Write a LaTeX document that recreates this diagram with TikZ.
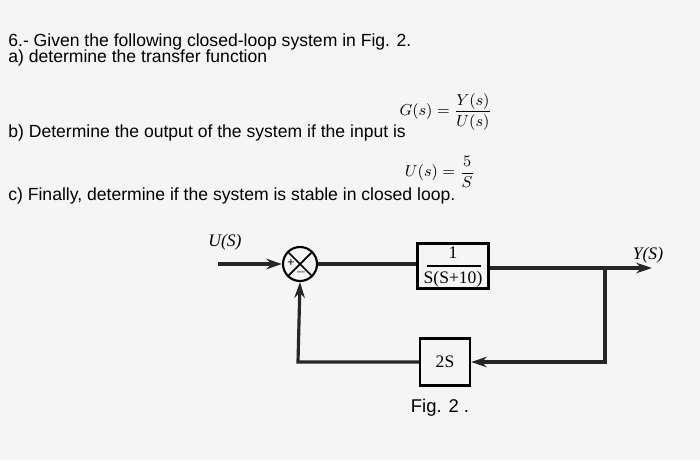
\documentclass[tikz,border=0pt]{standalone}
\usepackage{amsmath}
\usepackage{fontspec}
\setmainfont{Liberation Sans}
\newfontfamily\tms{Liberation Serif}
\usetikzlibrary{arrows.meta}
\begin{document}
\begin{tikzpicture}[x=0.02cm,y=-0.02cm,
  txt/.style={anchor=west,inner sep=0pt,font=\fontsize{10}{12}\selectfont},
  blk/.style={draw,line width=1.2pt,inner sep=0pt},
  wire/.style={line width=1.8pt,draw=black!85},
  arr/.style={wire,-{Stealth[length=9pt,width=6pt]}},
  lab/.style={font=\tms\itshape\fontsize{10}{11}\selectfont}]
\fill[gray!8] (0,0) rectangle (700,460);
\useasboundingbox (0,0) rectangle (700,460);
\node[txt] (t1) at (8,42) {6.- Given the following closed-loop system in Fig. 2.};
\node[txt] (t2) at (8,58) {a) determine the transfer function};
\node[anchor=east,inner sep=0pt,font=\fontsize{9.5}{10}\selectfont] (eq1) at (492,112) {$G(s)=\dfrac{Y(s)}{U(s)}$};
\node[txt] (t3) at (8,133) {b) Determine the output of the system if the input is};
\node[anchor=east,inner sep=0pt,font=\fontsize{9.5}{10}\selectfont] (eq2) at (475,172) {$U(s)=\dfrac{5}{S}$};
\node[txt] (t4) at (8,196) {c) Finally, determine if the system is stable in closed loop.};
% diagram
\node[draw,circle,line width=1.2pt,minimum size=34*0.02cm,inner sep=0pt] (sum) at (300,264) {};
\draw[line width=1pt] (sum.north west) -- (sum.south east) (sum.north east) -- (sum.south west);
\node[font=\fontsize{7}{7}\selectfont,inner sep=0pt] at (291,263) {+};
\node[font=\fontsize{7}{7}\selectfont,inner sep=0pt] at (301,272) {$-$};
\node[blk,minimum width=71*0.02cm,minimum height=45*0.02cm] (G) at (453,266) {};
\node[font=\tms\fontsize{10}{11}\selectfont,inner sep=0pt] (Gn) at (453,253) {1};
\node[font=\tms\fontsize{10}{11}\selectfont,inner sep=0pt] (Gd) at (453,279) {S(S+10)};
\draw[line width=1.2pt] (427,266) -- (481,266);
\node[blk,minimum width=50*0.02cm,minimum height=47*0.02cm,font=\tms\fontsize{10}{11}\selectfont] (H) at (445,362) {2S};
\coordinate (in) at (218,264);
\coordinate (out) at (652,268);
\coordinate (br) at (605,268);
\coordinate (fl) at (298,362);
\draw[arr] (in) -- (sum);
\draw[wire] (sum) -- (G.west |- sum);
\draw[arr] (G.east |- out) -- (out);
\draw[arr] (br) |- (H.east);
\draw[arr] (H.west) -- (fl) -- (sum.south);
\node[lab] (U) at (225,242) {U(S)};
\node[lab] (Y) at (648,255) {Y(S)};
\node[font=\fontsize{10.5}{12}\selectfont] (fig) at (440,408) {Fig. 2 .};
\end{tikzpicture}
\end{document}
